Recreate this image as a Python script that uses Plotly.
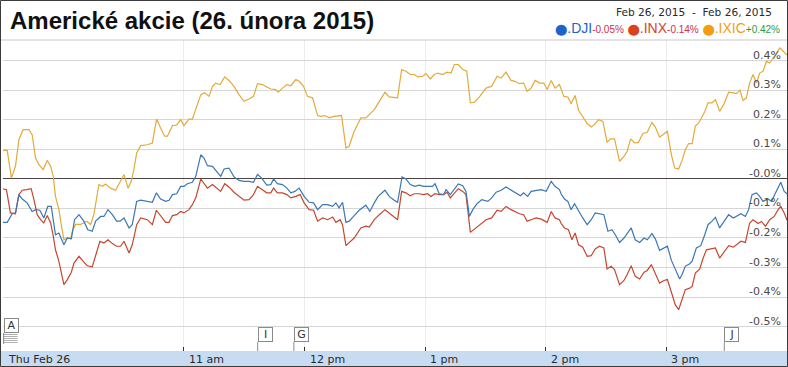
import plotly.graph_objects as go

# ---------------- data (minutes after the 9:30 open, % change) ----------------
ixic_t = [0.0, 2.1, 4.2, 6.2, 7.9, 10.0, 12.9, 14.5, 16.2, 17.8, 20.0, 22.0, 23.7, 25.0, 26.1, 27.8, 29.1, 30.3,
          32.0, 33.6, 34.5, 36.1, 38.6, 41.6, 43.6, 45.2, 47.7, 49.4, 51.0, 53.5, 56.0, 58.5, 60.2, 62.2, 63.8,
          65.1, 66.5, 68.5, 71.8, 74.3, 76.4, 78.4, 80.4, 81.8, 84.3, 86.4, 88.4, 90.0, 92.5, 94.2, 95.9, 98.4,
          100.3, 102.5, 104.2, 105.8, 108.0, 110.3, 112.4, 114.9, 117.4, 119.9, 122.4, 124.6, 126.6, 129.1,
          131.2, 133.2, 135.7, 136.9, 139.0, 141.2, 143.2, 145.7, 147.3, 149.5, 151.5, 154.0, 156.5, 158.1,
          160.1, 162.3, 164.7, 168.4, 170.6, 172.2, 174.7, 178.0, 180.5, 183.0, 184.7, 187.2, 190.0, 192.1,
          196.3, 198.3, 200.4, 202.6, 204.6, 206.3, 208.8, 210.4, 212.6, 214.5, 216.2, 218.7, 220.9, 222.9,
          224.5, 226.5, 228.7, 230.7, 232.5, 234.5, 237.0, 240.3, 243.1, 245.8, 247.8, 250.2, 252.7, 254.7,
          256.9, 259.0, 260.7, 262.7, 264.7, 266.9, 269.0, 270.7, 272.7, 274.6, 276.8, 279.0, 281.0, 282.6,
          284.6, 286.3, 288.4, 290.6, 292.6, 294.2, 296.2, 298.4, 300.5, 302.2, 304.2, 306.7, 309.2, 310.5,
          312.2, 314.2, 316.1, 318.3, 320.5, 322.8, 324.5, 326.6, 328.3, 330.5, 332.5, 334.1, 336.1, 337.8,
          339.4, 341.1, 342.8, 344.4, 346.1, 347.4, 349.1, 350.7, 352.7, 354.4, 356.5, 358.7, 361.0, 363.3,
          364.9, 366.6, 368.1, 369.8, 371.4, 373.1, 374.8, 376.4, 378.1, 379.8, 381.4, 383.1, 384.8, 386.4,
          388.1, 390.0]
ixic_v = [0.097, 0.097, 0.003, 0.043, 0.133, 0.167, 0.167, 0.150, 0.071, 0.049, 0.032, 0.063, 0.043, 0.009,
          -0.059, -0.104, -0.160, -0.206, -0.200, -0.203, -0.177, -0.154, -0.154, -0.143, -0.154, -0.121,
          -0.019, -0.025, -0.017, -0.031, -0.038, -0.008, 0.015, -0.031, -0.008, 0.032, 0.088, 0.113, 0.116,
          0.122, 0.203, 0.173, 0.145, 0.145, 0.181, 0.183, 0.201, 0.181, 0.203, 0.203, 0.235, 0.286,
          0.292, 0.280, 0.314, 0.325, 0.320, 0.346, 0.334, 0.314, 0.286, 0.263, 0.271, 0.280, 0.323, 0.320,
          0.312, 0.305, 0.303, 0.294, 0.308, 0.320, 0.316, 0.337, 0.331, 0.314, 0.280, 0.275, 0.215, 0.212,
          0.215, 0.207, 0.212, 0.215, 0.105, 0.111, 0.162, 0.207, 0.207, 0.225, 0.235, 0.263, 0.294, 0.278,
          0.275, 0.371, 0.365, 0.354, 0.354, 0.346, 0.348, 0.357, 0.339, 0.354, 0.359, 0.354, 0.362, 0.359,
          0.388, 0.388, 0.371, 0.365, 0.258, 0.260, 0.278, 0.308, 0.314, 0.348, 0.342, 0.362, 0.334, 0.331,
          0.323, 0.325, 0.297, 0.308, 0.334, 0.325, 0.325, 0.303, 0.334, 0.308, 0.320, 0.280, 0.278, 0.255,
          0.283, 0.233, 0.212, 0.188, 0.176, 0.184, 0.201, 0.195, 0.124, 0.136, 0.136, 0.060, 0.079, 0.094,
          0.136, 0.122, 0.124, 0.154, 0.158, 0.192, 0.176, 0.142, 0.150, 0.162, 0.082, 0.037, 0.034, 0.063,
          0.099, 0.120, 0.120, 0.179, 0.190, 0.207, 0.229, 0.258, 0.258, 0.269, 0.229, 0.255, 0.294, 0.292,
          0.289, 0.301, 0.266, 0.275, 0.325, 0.354, 0.325, 0.359, 0.365, 0.399, 0.393, 0.410, 0.427, 0.444,
          0.433, 0.420]

dji_t = [0.0, 2.1, 4.6, 6.2, 7.9, 9.6, 12.0, 14.5, 16.2, 18.3, 20.3, 22.3, 24.0, 25.3, 26.1, 27.8, 30.3, 32.0,
         34.0, 35.6, 37.8, 40.2, 42.2, 44.4, 46.1, 48.6, 50.2, 52.2, 54.4, 56.5, 58.2, 60.2, 62.7, 64.3, 66.5,
         68.5, 71.8, 74.3, 76.3, 78.4, 80.9, 82.6, 84.3, 86.4, 88.4, 90.0, 91.7, 94.2, 95.9, 98.4, 100.0,
         101.7, 104.2, 106.3, 108.3, 110.0, 112.4, 114.9, 117.4, 119.9, 122.4, 124.6, 126.6, 128.7, 131.2,
         133.2, 134.6, 136.5, 139.0, 141.2, 143.2, 145.2, 147.3, 149.8, 152.3, 154.5, 156.5, 159.0, 161.5,
         164.0, 165.6, 167.2, 168.9, 170.6, 172.2, 174.7, 177.2, 180.5, 182.5, 184.7, 186.6, 190.0, 192.1,
         194.6, 196.3, 198.5, 200.4, 202.6, 204.9, 207.1, 209.2, 211.2, 213.7, 214.9, 217.0, 219.2, 220.4,
         222.5, 224.9, 226.5, 228.7, 230.3, 232.0, 233.7, 235.8, 238.2, 241.2, 243.1, 245.3, 247.8, 250.2,
         252.7, 255.2, 257.4, 259.0, 261.0, 262.7, 265.2, 267.7, 270.2, 272.7, 274.6, 276.8, 277.6, 279.3,
         281.0, 282.6, 284.3, 286.3, 288.4, 290.6, 292.6, 294.6, 296.7, 298.9, 300.9, 302.9, 304.6, 306.7,
         308.9, 310.5, 312.5, 314.5, 316.7, 318.9, 320.5, 322.8, 324.5, 326.6, 328.8, 330.5, 332.5, 334.4,
         336.6, 337.8, 339.4, 341.6, 342.8, 344.9, 347.1, 349.1, 350.7, 352.7, 354.4, 356.5, 358.7, 361.0,
         363.3, 365.4, 367.1, 369.3, 370.9, 372.6, 374.8, 376.4, 378.1, 380.6, 382.3, 383.9, 385.6, 386.9,
         388.6, 390.0]
dji_v = [-0.147, -0.147, -0.118, -0.115, -0.053, -0.068, -0.081, -0.110, -0.104, -0.106, -0.132, -0.093,
         -0.093, -0.160, -0.189, -0.183, -0.223, -0.200, -0.203, -0.138, -0.121, -0.143, -0.172, -0.177,
         -0.143, -0.127, -0.127, -0.104, -0.121, -0.143, -0.143, -0.132, -0.166, -0.155, -0.076, -0.072,
         -0.076, -0.079, -0.047, -0.068, -0.076, -0.072, -0.053, -0.050, -0.025, -0.025, -0.016, -0.011,
         0.009, 0.082, 0.071, 0.045, 0.043, 0.026, 0.009, 0.034, 0.037, 0.007, -0.005, -0.008, -0.008,
         -0.011, 0.015, 0.003, -0.021, -0.019, 0.000, -0.016, -0.019, -0.031, -0.047, -0.042, -0.031,
         -0.059, -0.079, -0.081, -0.104, -0.087, -0.087, -0.093, -0.081, -0.098, -0.079, -0.147, -0.143,
         -0.124, -0.106, -0.089, -0.110, -0.081, -0.059, -0.038, -0.059, -0.072, -0.079, 0.007, 0.000,
         -0.019, -0.025, -0.021, -0.025, -0.025, -0.025, -0.016, -0.050, -0.053, -0.036, -0.053, -0.031,
         -0.017, -0.023, -0.042, -0.127, -0.104, -0.084, -0.070, -0.076, -0.064, -0.045, -0.038, -0.027,
         -0.038, -0.047, -0.057, -0.047, -0.059, -0.042, -0.038, -0.036, -0.042, -0.008, -0.025, -0.036,
         -0.050, -0.068, -0.076, -0.104, -0.084, -0.110, -0.132, -0.155, -0.138, -0.115, -0.118, -0.121,
         -0.177, -0.172, -0.189, -0.215, -0.200, -0.183, -0.166, -0.206, -0.215, -0.200, -0.206, -0.185,
         -0.203, -0.242, -0.234, -0.228, -0.276, -0.307, -0.339, -0.324, -0.296, -0.287, -0.279, -0.234,
         -0.226, -0.189, -0.155, -0.143, -0.130, -0.166, -0.143, -0.121, -0.132, -0.124, -0.118, -0.127,
         -0.104, -0.053, -0.047, -0.059, -0.076, -0.068, -0.076, -0.053, -0.031, -0.011, -0.042, -0.050]

inx_t = [0.0, 1.7, 3.7, 6.2, 7.9, 9.6, 11.7, 14.0, 15.4, 17.0, 18.7, 20.3, 22.0, 23.7, 25.0, 26.1, 27.8, 29.1,
         30.3, 32.0, 34.0, 35.3, 37.8, 39.9, 41.9, 44.4, 46.1, 48.2, 50.2, 52.2, 54.4, 56.5, 58.5, 60.2, 62.7,
         64.3, 66.5, 68.5, 71.8, 74.3, 76.3, 78.4, 80.9, 82.6, 84.3, 86.4, 88.4, 90.0, 92.5, 94.2, 95.9, 98.4,
         100.0, 101.7, 104.2, 106.3, 108.3, 110.3, 112.4, 114.9, 117.4, 119.9, 122.4, 124.6, 126.6, 129.1,
         131.2, 133.2, 134.6, 136.5, 139.0, 141.2, 143.2, 145.7, 147.8, 149.8, 152.3, 154.5, 156.5, 159.0,
         161.5, 164.0, 165.6, 167.7, 168.9, 170.6, 172.2, 174.7, 178.0, 180.5, 182.2, 184.7, 187.2, 190.0,
         192.1, 194.6, 196.3, 198.3, 200.4, 202.6, 204.6, 207.1, 209.2, 211.2, 212.9, 214.9, 217.0, 219.2,
         220.9, 222.5, 224.9, 226.5, 228.7, 230.3, 232.5, 234.5, 237.0, 240.3, 243.1, 245.8, 247.8, 250.2,
         252.7, 254.7, 256.9, 259.0, 260.7, 262.7, 265.2, 267.7, 270.7, 272.7, 274.6, 276.8, 277.6, 279.3,
         281.3, 283.0, 284.6, 286.3, 288.4, 290.6, 292.6, 294.6, 296.7, 298.9, 300.5, 302.5, 304.2, 306.7,
         308.9, 310.5, 312.5, 314.5, 316.7, 318.9, 320.5, 322.5, 324.5, 326.6, 328.8, 330.5, 332.5, 334.4,
         336.1, 337.8, 339.4, 341.6, 342.8, 344.4, 346.6, 348.3, 349.9, 352.1, 354.4, 356.5, 358.7, 361.0,
         363.3, 365.4, 367.1, 369.3, 371.4, 373.1, 375.6, 377.3, 379.3, 381.4, 383.6, 385.6, 386.9, 388.6,
         390.0]
inx_v = [-0.034, -0.036, -0.115, -0.118, -0.053, -0.038, -0.036, -0.033, -0.070, -0.121, -0.138, -0.149,
         -0.124, -0.149, -0.194, -0.240, -0.279, -0.319, -0.358, -0.341, -0.316, -0.285, -0.262, -0.279,
         -0.294, -0.298, -0.262, -0.211, -0.217, -0.206, -0.219, -0.228, -0.228, -0.211, -0.251, -0.223,
         -0.155, -0.132, -0.138, -0.155, -0.106, -0.124, -0.147, -0.147, -0.124, -0.121, -0.110, -0.115,
         -0.104, -0.087, -0.064, 0.000, -0.014, -0.031, -0.019, -0.031, -0.042, -0.016, -0.027, -0.045,
         -0.059, -0.072, -0.070, -0.053, -0.025, -0.036, -0.047, -0.047, -0.031, -0.047, -0.047, -0.053,
         -0.064, -0.059, -0.053, -0.081, -0.104, -0.106, -0.143, -0.132, -0.138, -0.129, -0.147, -0.138,
         -0.155, -0.226, -0.217, -0.200, -0.166, -0.160, -0.163, -0.138, -0.121, -0.104, -0.115, -0.129,
         -0.138, -0.042, -0.047, -0.057, -0.050, -0.050, -0.053, -0.050, -0.059, -0.050, -0.053, -0.053,
         -0.045, -0.064, -0.047, -0.033, -0.042, -0.053, -0.181, -0.170, -0.155, -0.138, -0.132, -0.106,
         -0.110, -0.093, -0.104, -0.110, -0.118, -0.121, -0.143, -0.138, -0.132, -0.136, -0.147, -0.110,
         -0.132, -0.138, -0.150, -0.166, -0.172, -0.206, -0.183, -0.223, -0.231, -0.262, -0.260, -0.237,
         -0.228, -0.234, -0.305, -0.296, -0.307, -0.358, -0.344, -0.324, -0.294, -0.330, -0.339, -0.316,
         -0.310, -0.290, -0.319, -0.353, -0.344, -0.341, -0.384, -0.426, -0.443, -0.409, -0.375, -0.370,
         -0.364, -0.319, -0.305, -0.268, -0.240, -0.237, -0.234, -0.268, -0.249, -0.226, -0.231, -0.219,
         -0.211, -0.215, -0.150, -0.138, -0.151, -0.144, -0.160, -0.138, -0.127, -0.104, -0.093, -0.115,
         -0.140]

series_names = [".DJI", ".INX", ".IXIC"]
series_changes = ["-0.05%", "-0.14%", "+0.42%"]

y_tick_vals = [0.4, 0.3, 0.2, 0.1, 0.0, -0.1, -0.2, -0.3, -0.4, -0.5]
y_tick_text = ["0.4%", "0.3%", "0.2%", "0.1%", "-0.0%", "-0.1%", "-0.2%", "-0.3%", "-0.4%", "-0.5%"]

x_tick_vals = [0, 90, 150, 210, 270, 330]
x_tick_text = ["Thu Feb 26", "11 am", "12 pm", "1 pm", "2 pm", "3 pm"]

flag_times = [0.3, 126.7, 144.7, 358.8]
flag_labels = ["A", "I", "G", "J"]

date_range_text = "Feb 26, 2015  -  Feb 26, 2015"
title_text = "Americké akcie (26. února 2015)"

# ---------------- styling ----------------
W, H = 788, 367
ML, MR, MT, MB = 3, 1, 40, 16
PW, PH = W - ML - MR, H - MT - MB
Y_RANGE = [-0.583, 0.471]
X_RANGE = [0, 390]

line_colors = {".DJI": "#3a77b4", ".INX": "#c4472e", ".IXIC": "#e2ab3c"}
dot_colors = {".DJI": "#1c64c8", ".INX": "#d8431c", ".IXIC": "#f29d12"}
chg_colors = {".DJI": "#c8304a", ".INX": "#c8304a", ".IXIC": "#2f9a35"}

fig = go.Figure()
for name, t, v in [(".IXIC", ixic_t, ixic_v), (".INX", inx_t, inx_v), (".DJI", dji_t, dji_v)]:
    fig.add_trace(go.Scatter(x=t, y=v, mode="lines", name=name,
                             line=dict(color=line_colors[name], width=1.2),
                             hoverinfo="skip", showlegend=False))

px_x = 1.0 / PW
px_y = 1.0 / PH

shapes = [
    # date axis band
    dict(type="rect", xref="paper", yref="paper", x0=-ML * px_x, x1=1 + MR * px_x,
         y0=-MB * px_y, y1=0, fillcolor="#c7dbf1", line=dict(width=0), layer="below"),
    # top border of plot area
    dict(type="line", xref="paper", yref="paper", x0=-ML * px_x, x1=1, y0=1, y1=1,
         line=dict(color="#c8c8c8", width=1)),
    # outer frame
    dict(type="rect", xref="paper", yref="paper", x0=(-ML + 0.5) * px_x, x1=1 + (MR - 0.5) * px_x,
         y0=(-MB + 0.5) * px_y, y1=1 + (MT - 0.5) * px_y, line=dict(color="#3c3c3c", width=1),
         fillcolor="rgba(0,0,0,0)"),
]

annotations = []
# y tick labels (inside, right, above the gridline)
for v, txt in zip(y_tick_vals, y_tick_text):
    annotations.append(dict(x=1, xref="paper", y=v, yref="y", text=txt, showarrow=False,
                            xanchor="right", yanchor="bottom", xshift=-4, yshift=-3,
                            font=dict(family="DejaVu Sans", size=11, color="#4a4a4a")))
# x tick labels inside the band
for v, txt in zip(x_tick_vals, x_tick_text):
    annotations.append(dict(x=v, xref="x", y=-8 * px_y, yref="paper", text=txt, showarrow=False,
                            xanchor="left", yanchor="middle", xshift=3,
                            font=dict(family="DejaVu Sans", size=11, color="#2a2a2a")))

# news flags
for t, lab in zip(flag_times, flag_labels):
    if lab == "A":
        ybot = 18 * px_y
        for k in range(5):
            yy = (16.5 - 2 * k) * px_y
            shapes.append(dict(type="line", xref="x", yref="paper", x0=t, x1=t + 7.0, y0=yy, y1=yy,
                               line=dict(color="#9a9a9a", width=0.8)))
        shapes.append(dict(type="line", xref="x", yref="paper", x0=t, x1=t, y0=7 * px_y, y1=ybot,
                           line=dict(color="#8a8a8a", width=1)))
    else:
        ybot = 9 * px_y
        shapes.append(dict(type="line", xref="x", yref="paper", x0=t, x1=t, y0=0, y1=ybot,
                           line=dict(color="#8a8a8a", width=1)))
    annotations.append(dict(x=t, xref="x", y=ybot, yref="paper", text=lab, showarrow=False,
                            xanchor="left", yanchor="bottom", width=11, height=11,
                            bgcolor="white", bordercolor="#8a8a8a", borderwidth=1, borderpad=1,
                            font=dict(family="DejaVu Sans", size=11, color="#333333")))

# date range text
annotations.append(dict(x=1, xref="paper", y=1 + 28 * px_y, yref="paper", text=date_range_text,
                        showarrow=False, xanchor="right", yanchor="middle", xshift=-13,
                        font=dict(family="DejaVu Sans", size=10.6, color="#2a2a2a")))
# legend row
parts = []
for n, c in zip(series_names, series_changes):
    parts.append(f'<span style="color:{dot_colors[n]};font-family:DejaVu Sans;font-size:11px">⬤</span>'
                 f'<span style="color:{dot_colors[n]};font-size:14px">{n}</span>'
                 f'<span style="color:{chg_colors[n]};font-size:10px">{c}</span>')
annotations.append(dict(x=1, xref="paper", y=1 + 12 * px_y, yref="paper", text=" ".join(parts),
                        showarrow=False, xanchor="right", yanchor="middle", xshift=-5,
                        font=dict(family="Liberation Sans", size=13, color="#333333")))

fig.update_layout(
    width=W, height=H,
    margin=dict(l=ML, r=MR, t=MT, b=MB, pad=0),
    paper_bgcolor="white", plot_bgcolor="white",
    title=dict(text=title_text, x=10 / W, xanchor="left", xref="container",
               y=1 - 21 / H, yanchor="middle", yref="container",
               font=dict(family="Liberation Sans", size=24, color="#111111", weight="bold")),
    xaxis=dict(range=X_RANGE, tickvals=x_tick_vals[1:], showticklabels=False,
               ticks="inside", ticklen=4, tickcolor="#333333", tickwidth=1,
               showgrid=True, gridcolor="#ececec", gridwidth=1, zeroline=False, showline=False,
               fixedrange=True),
    yaxis=dict(range=Y_RANGE, tickvals=y_tick_vals, showticklabels=False, ticks="",
               showgrid=True, gridcolor="#d6d6d6", gridwidth=1,
               zeroline=True, zerolinecolor="#4e4343", zerolinewidth=1, showline=False,
               fixedrange=True),
    shapes=shapes,
    annotations=annotations,
    showlegend=False,
)

fig.write_html("out.html", config={"displayModeBar": False},
               post_script="document.body.style.margin='0';document.body.style.overflow='hidden';")
